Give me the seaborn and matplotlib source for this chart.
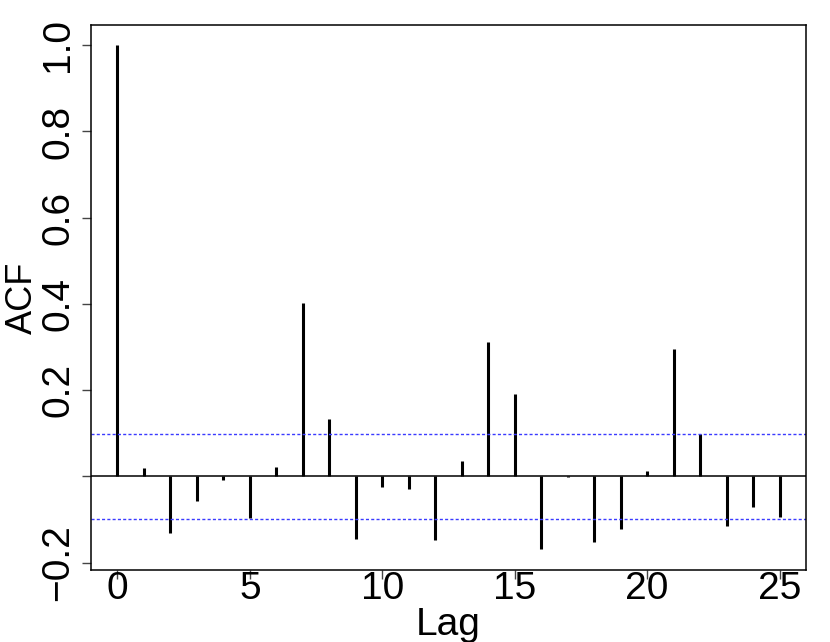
import numpy as np
import matplotlib
matplotlib.use("Agg")
import matplotlib.pyplot as plt
import seaborn as sns

# ACF values, lags 0..25
lags = list(range(26))
acf = [1.000, 0.019, -0.131, -0.056, -0.009, -0.096, 0.023, 0.403, 0.133, -0.144,
       -0.025, -0.029, -0.147, 0.037, 0.311, 0.192, -0.169, -0.002, -0.151, -0.122,
       0.012, 0.295, 0.099, -0.114, -0.070, -0.094]
conf_bound = 0.098

x_ticks = [0, 5, 10, 15, 20, 25]
y_ticks = [-0.2, 0.0, 0.2, 0.4, 0.6, 0.8, 1.0]
y_tick_labels = ["\u22120.2", "", "0.2", "0.4", "0.6", "0.8", "1.0"]

sns.set_style("ticks")
plt.rcParams["font.family"] = ["Liberation Sans", "DejaVu Sans"]
plt.rcParams["text.color"] = "black"
plt.rcParams["axes.labelcolor"] = "black"
plt.rcParams["xtick.labelcolor"] = "black"
plt.rcParams["ytick.labelcolor"] = "black"

fig = plt.figure(figsize=(8.3, 6.42), dpi=100)
ax = fig.add_axes([91 / 830, 1 - 570 / 642, (806 - 91) / 830, (570 - 25) / 642])

ax.vlines(lags, 0, acf, color="black", linewidth=2.2)
ax.axhline(0, color="black", linewidth=1.1)
for b in (conf_bound, -conf_bound):
    ax.axhline(b, color="#3a3aff", linewidth=1.0, linestyle=(0, (2.2, 1.6)))

ax.set_xlim(-1, 26)
ax.set_ylim(-0.2168, 1.0468)

ax.set_xticks(x_ticks)
ax.set_xticklabels([str(t) for t in x_ticks], fontsize=28)
ax.set_yticks(y_ticks)
ax.set_yticklabels(y_tick_labels, fontsize=28, rotation=90, va="center")

ax.tick_params(axis="both", direction="out", length=6.5, width=1.0, color="#444444")
ax.tick_params(axis="x", pad=-6)
ax.tick_params(axis="y", pad=4)

ax.set_xlabel("Lag", fontsize=28, labelpad=0)
ax.set_ylabel("ACF", fontsize=26)
ax.yaxis.set_label_coords(-0.072, 0.5)

for s in ax.spines.values():
    s.set_color("black")
    s.set_linewidth(1.1)

fig.savefig("out.png", dpi=100)
